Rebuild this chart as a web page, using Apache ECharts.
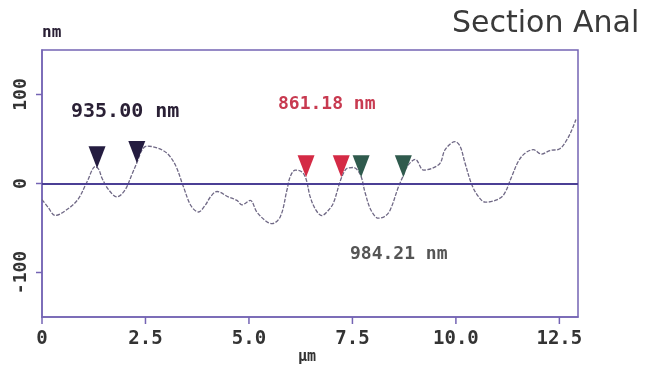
<!DOCTYPE html>
<html>
<head>
<meta charset="utf-8">
<script src="https://cdn.jsdelivr.net/npm/echarts@6/dist/echarts.min.js"></script>
<style>html,body{margin:0;padding:0;background:#fff}#c{width:647px;height:366px}</style>
</head>
<body>
<div id="c"></div>
<script>
// profile (x in µm, height in nm)
const profileX = [0,0.15,0.32,0.52,0.85,1.09,1.29,1.37,1.45,1.61,1.81,2.01,2.17,2.29,2.42,2.54,2.78,3.02,3.22,3.42,3.6,3.78,3.95,4.07,4.23,4.5,4.71,4.83,5.03,5.19,5.43,5.56,5.76,5.92,6.0,6.12,6.28,6.38,6.48,6.62,6.76,6.92,7.04,7.2,7.3,7.37,7.52,7.69,7.81,7.95,8.13,8.28,8.41,8.61,8.73,8.82,9.02,9.22,9.42,9.62,9.74,9.98,10.1,10.22,10.39,10.55,10.71,10.95,11.15,11.35,11.51,11.67,11.87,12.07,12.27,12.51,12.68,12.8,12.9];
const profileY = [-18,-27,-36,-32,-19,2,19,16,6,-7,-15,-7,10,23,38,42,40,34,21,-4,-25,-32,-24,-15,-9,-15,-19,-24,-19,-32,-43,-45,-37,-7,8,15,13,5,-15,-30,-36,-30,-22,2,13,17,18,10,-11,-30,-39,-37,-30,-4,9,19,27,15,17,23,38,47,42,23,-2,-15,-21,-19,-13,8,25,34,38,33,37,39,49,60,72];
// cursor markers
const markerX = [1.33, 2.29, 6.38, 7.23, 7.71, 8.73];
const markerY = [17, 23, 7, 7, 7, 7];
const markerGroup = [0, 0, 1, 1, 2, 2];
// tick labels
const xTicks = [0, 2.5, 5, 7.5, 10, 12.5];
const yTicks = [-100, 0, 100];
// annotation values
const annotations = ['935.00 nm', '861.18 nm', '984.21 nm'];
const unitY = 'nm', unitX = 'µm', title = 'Section Anal';

const groupColors = ['#241c40', '#d42a45', '#2f5a4d'];
const frame = '#7464b4';
const mono = 'DejaVu Sans Mono';
const X_MIN = 0, X_MAX = 12.95, Y_MIN = -150, Y_MAX = 150;

const chart = echarts.init(document.getElementById('c'));
const profile = profileX.map((x, i) => [x, profileY[i]]);
const markers = markerX.map((x, i) => ({value: [x, markerY[i]], itemStyle: {color: groupColors[markerGroup[i]], opacity: 1}}));

function annot(txt, x, y, color, size) {
  return {
    type: 'text', left: x, top: y, z: 10,
    style: {text: txt, fontFamily: mono, fontWeight: 'bold', fontSize: size, fill: color}
  };
}

// outward tick marks drawn through the axis scales
function tickSeries(values, isX) {
  return {
    type: 'custom', silent: true, clip: false, z: 6,
    data: values.map(v => isX ? [v, Y_MIN] : [X_MIN, v]),
    renderItem: (params, api) => {
      const p = api.coord([api.value(0), api.value(1)]);
      return {
        type: 'line',
        shape: isX ? {x1: p[0], y1: p[1], x2: p[0], y2: p[1] + 7} : {x1: p[0], y1: p[1], x2: p[0] - 6, y2: p[1]},
        style: {stroke: frame, lineWidth: 1.5}
      };
    }
  };
}

chart.setOption({
  animation: false,
  backgroundColor: '#fff',
  grid: {left: 42, right: 69, top: 50, bottom: 49, show: true, borderColor: frame, borderWidth: 1.5},
  xAxis: {
    type: 'value', min: X_MIN, max: X_MAX, interval: 2.5,
    axisLine: {show: true, onZero: false, lineStyle: {color: frame, width: 1.5}},
    axisTick: {show: false},
    splitLine: {show: false},
    axisLabel: {showMaxLabel: false, margin: 13, fontFamily: mono, fontWeight: 'bold', fontSize: 19, color: '#333',
      formatter: v => xTicks.includes(v) ? (v === 0 ? '0' : v.toFixed(1)) : ''}
  },
  yAxis: {
    type: 'value', min: Y_MIN, max: Y_MAX,
    axisLine: {show: true, onZero: false, lineStyle: {color: frame, width: 1.5}},
    axisTick: {show: false},
    splitLine: {show: false},
    axisLabel: {customValues: yTicks, rotate: 90, margin: 12, fontFamily: mono, fontWeight: 'bold', fontSize: 18, color: '#333'}
  },
  series: [
    {
      type: 'line', data: profile, smooth: 0.35, symbol: 'none',
      lineStyle: {color: '#6f6885', width: 1.3, type: [4, 1.5]},
      markLine: {
        silent: true, symbol: 'none', label: {show: false},
        lineStyle: {color: '#4b3f95', width: 2, type: 'solid'},
        data: [{yAxis: 0}]
      },
      z: 3
    },
    {
      type: 'scatter', data: markers,
      symbol: 'path://M0,0 L20,0 L10,26 Z', symbolSize: [17, 22], symbolOffset: [0, -11],
      itemStyle: {opacity: 1},
      z: 5
    },
    tickSeries(xTicks, true),
    tickSeries(yTicks, false)
  ],
  graphic: [
    {type: 'text', left: 452, top: 9, style: {text: title, fontFamily: 'DejaVu Sans', fontSize: 30, fill: '#3a3a3a'}},
    {type: 'text', left: 42, top: 25, style: {text: unitY, fontFamily: mono, fontWeight: 'bold', fontSize: 16, fill: '#2a2035'}},
    {type: 'text', left: 298, top: 350, style: {text: unitX, fontFamily: mono, fontWeight: 'bold', fontSize: 15, fill: '#333'}},
    annot(annotations[0], 71, 102, '#2a2035', 20),
    annot(annotations[1], 278, 95, '#c83a50', 18),
    annot(annotations[2], 350, 245, '#555555', 18)
  ]
});
</script>
</body>
</html>
